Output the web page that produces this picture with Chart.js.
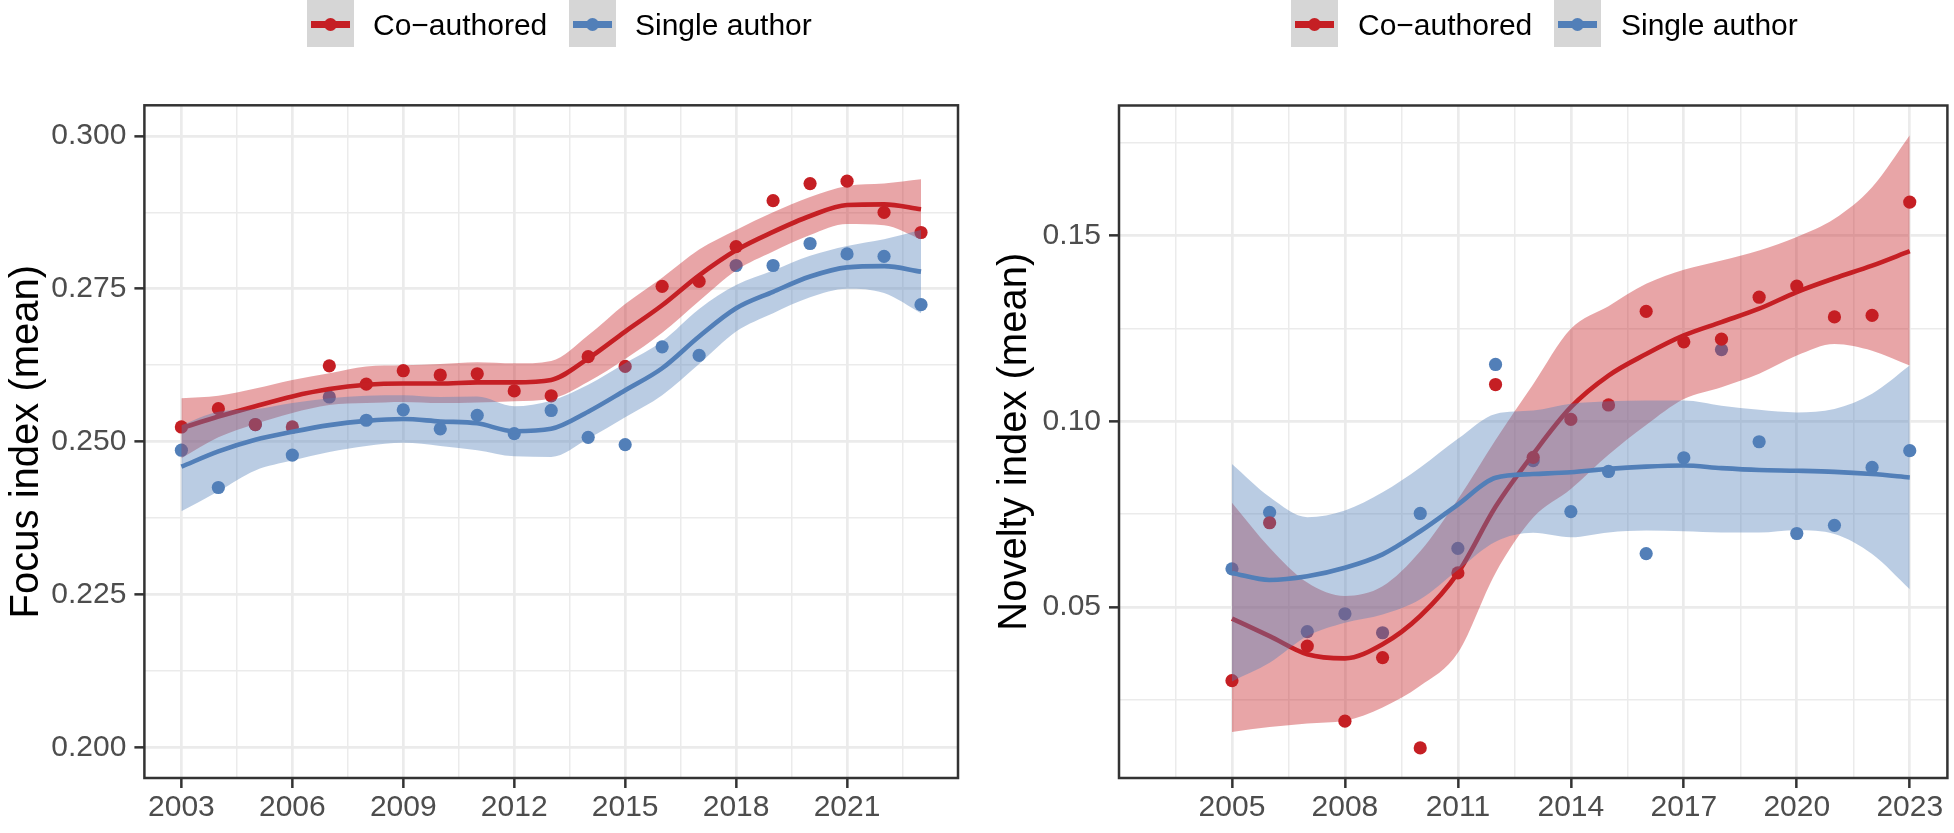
<!DOCTYPE html>
<html><head><meta charset="utf-8">
<script src="https://cdn.jsdelivr.net/npm/chart.js@4.4.1/dist/chart.umd.min.js"></script>
<style>
html,body{margin:0;padding:0;background:#fff;width:1954px;height:833px;overflow:hidden;}
#wrap{position:relative;width:1954px;height:833px;}
canvas{position:absolute;top:0;}
.key{position:absolute;top:0;width:47px;height:47px;background:#d6d6d6;}
.key .ln{position:absolute;left:4px;width:39px;top:20.5px;height:7px;}
.key .pt{position:absolute;left:17px;top:17.5px;width:13px;height:13px;border-radius:50%;}
.lab{position:absolute;top:1px;line-height:48px;white-space:nowrap;font-family:'Liberation Sans',Arial,Helvetica,sans-serif;font-size:30px;color:#000;}
</style></head>
<body><div id="wrap">
<canvas id="c1" width="977" height="833" style="left:0"></canvas>
<canvas id="c2" width="977" height="833" style="left:977px"></canvas>

<div class="key" style="left:307px"><div class="ln" style="background:rgb(197,31,36)"></div><div class="pt" style="background:rgb(197,31,36)"></div></div>
<div class="lab" style="left:373px">Co−authored</div>
<div class="key" style="left:569px"><div class="ln" style="background:rgb(82,127,184)"></div><div class="pt" style="background:rgb(82,127,184)"></div></div>
<div class="lab" style="left:635px">Single author</div>

<div class="key" style="left:1291px"><div class="ln" style="background:rgb(197,31,36)"></div><div class="pt" style="background:rgb(197,31,36)"></div></div>
<div class="lab" style="left:1358px">Co−authored</div>
<div class="key" style="left:1554px"><div class="ln" style="background:rgb(82,127,184)"></div><div class="pt" style="background:rgb(82,127,184)"></div></div>
<div class="lab" style="left:1621px">Single author</div>
</div>
<script>
// ---------- Focus index (left panel) ----------
const focusYears = [2003,2004,2005,2006,2007,2008,2009,2010,2011,2012,2013,2014,2015,2016,2017,2018,2019,2020,2021,2022,2023];
const focusCoPoints = [0.2524,0.2554,0.2528,0.2524,0.2624,0.2594,0.2616,0.2609,0.2611,0.2583,0.2575,0.2639,0.2623,0.2754,0.2762,0.2819,0.2894,0.2922,0.2926,0.2875,0.2842];
const focusSinglePoints = [0.2486,0.2425,0.2528,0.2478,0.2573,0.2535,0.2552,0.2521,0.2543,0.2513,0.2551,0.2507,0.2495,0.2655,0.2641,0.2788,0.2788,0.2824,0.2807,0.2803,0.2724];
const focusCoFit = [0.2522,0.2541,0.2558,0.2574,0.2586,0.2593,0.2595,0.2595,0.2597,0.2597,0.2601,0.2636,0.2680,0.2723,0.2772,0.2813,0.2843,0.2869,0.2887,0.2888,0.2880];
const focusCoUpper = [0.2571,0.2575,0.2587,0.2601,0.2612,0.2623,0.2625,0.2627,0.2630,0.2628,0.2632,0.2674,0.2725,0.2768,0.2814,0.2846,0.2875,0.2900,0.2918,0.2922,0.2929];
const focusCoLower = [0.2473,0.2507,0.2529,0.2547,0.2560,0.2563,0.2565,0.2563,0.2564,0.2566,0.2570,0.2598,0.2635,0.2678,0.2730,0.2780,0.2811,0.2838,0.2856,0.2854,0.2831];
const focusSingleFit = [0.2459,0.2484,0.2503,0.2516,0.2527,0.2534,0.2537,0.2533,0.2530,0.2517,0.2521,0.2549,0.2584,0.2620,0.2672,0.2718,0.2745,0.2770,0.2785,0.2787,0.2778];
const focusSingleUpper = [0.2527,0.2549,0.2553,0.2563,0.2571,0.2575,0.2576,0.2573,0.2574,0.2558,0.2567,0.2593,0.2628,0.2664,0.2717,0.2756,0.2780,0.2804,0.2820,0.2831,0.2846];
const focusSingleLower = [0.2386,0.2419,0.2453,0.2469,0.2483,0.2493,0.2498,0.2493,0.2486,0.2476,0.2475,0.2505,0.2540,0.2576,0.2627,0.2680,0.2710,0.2736,0.2750,0.2743,0.2710];
const focusXMajor = [2003,2006,2009,2012,2015,2018,2021];
const focusXMinor = [2004.5,2007.5,2010.5,2013.5,2016.5,2019.5,2022.5];
const focusYMajor = [0.200,0.225,0.250,0.275,0.300];
const focusYMinor = [0.2125,0.2375,0.2625,0.2875];

// ---------- Novelty index (right panel) ----------
const noveltyYears = [2005,2006,2007,2008,2009,2010,2011,2012,2013,2014,2015,2016,2017,2018,2019,2020,2021,2022,2023];
const noveltyCoPoints = [0.0302,0.0727,0.0395,0.0193,0.0364,0.0121,0.0592,0.1099,0.0903,0.1005,0.1044,0.1296,0.1214,0.1221,0.1334,0.1364,0.1281,0.1285,0.1590];
const noveltySinglePoints = [0.0603,0.0755,0.0434,0.0482,0.0431,0.0752,0.0658,0.1153,0.0894,0.0757,0.0865,0.0644,0.0902,0.1193,0.0945,0.0698,0.0720,0.0876,0.0921];
const noveltyCoFit = [0.0469,0.0422,0.0373,0.0362,0.0400,0.0476,0.0592,0.0770,0.0912,0.1038,0.1123,0.1181,0.1231,0.1267,0.1303,0.1348,0.1385,0.1419,0.1458];
const noveltyCoUpper = [0.0781,0.0660,0.0566,0.0530,0.0556,0.0650,0.0790,0.0950,0.1100,0.1249,0.1310,0.1370,0.1408,0.1433,0.1460,0.1496,0.1545,0.1630,0.1770];
const noveltyCoLower = [0.0164,0.0177,0.0187,0.0194,0.0230,0.0288,0.0377,0.0592,0.0741,0.0818,0.0910,0.0990,0.1060,0.1092,0.1128,0.1177,0.1208,0.1190,0.1150];
const noveltySingleFit = [0.0592,0.0573,0.0583,0.0606,0.0642,0.0704,0.0776,0.0848,0.0858,0.0863,0.0872,0.0878,0.0881,0.0874,0.0869,0.0867,0.0864,0.0858,0.0849];
const noveltySingleUpper = [0.0885,0.0796,0.0742,0.0760,0.0809,0.0876,0.0953,0.1020,0.1029,0.1047,0.1054,0.1056,0.1056,0.1042,0.1031,0.1024,0.1033,0.1074,0.1150];
const noveltySingleLower = [0.0300,0.0350,0.0422,0.0458,0.0480,0.0521,0.0600,0.0676,0.0700,0.0688,0.0701,0.0706,0.0704,0.0701,0.0701,0.0707,0.0697,0.0643,0.0548];
const noveltyXMajor = [2005,2008,2011,2014,2017,2020,2023];
const noveltyXMinor = [2003.5,2006.5,2009.5,2012.5,2015.5,2018.5,2021.5];
const noveltyYMajor = [0.05,0.10,0.15];
const noveltyYMinor = [0.025,0.075,0.125,0.175];

const RED = 'rgb(197,31,36)', BLUE = 'rgb(82,127,184)';
const REDF = 'rgba(197,31,36,0.4)', BLUEF = 'rgba(82,127,184,0.4)';
const FONT = "'Liberation Sans', Arial, Helvetica, sans-serif";

function pts(xs, ys){ return xs.map((x,i)=>({x:x, y:ys[i]})); }
function tickObjs(majors, minors){
  return majors.map(v=>({value:v, mj:true})).concat(minors.map(v=>({value:v, mj:false}))).sort((a,b)=>a.value-b.value);
}

const framePlugin = {
  id:'frame',
  afterDraw(chart){
    const {ctx, chartArea:a} = chart;
    ctx.save();
    ctx.strokeStyle = '#333333';
    ctx.lineWidth = 2.5;
    ctx.strokeRect(a.left, a.top, a.right-a.left, a.bottom-a.top);
    ctx.restore();
  }
};

function makeChart(id, c){
  const line = (data, color) => ({data:data, borderColor:color, borderWidth:4.6, pointRadius:0, pointHoverRadius:0, fill:false, cubicInterpolationMode:'monotone'});
  const ribbon = (data, color, fill) => ({data:data, borderWidth:0, borderColor:'rgba(0,0,0,0)', pointRadius:0, pointHoverRadius:0, fill:fill, backgroundColor:color, cubicInterpolationMode:'monotone'});
  const dots = (data, color) => ({data:data, showLine:false, pointRadius:6.6, pointHoverRadius:6.6, pointBackgroundColor:color, pointBorderWidth:0, borderColor:color});
  const ds = [
    dots(pts(c.years,c.sPts), BLUE),
    dots(pts(c.years,c.cPts), RED),
    ribbon(pts(c.years,c.cHi), REDF, '+1'),
    ribbon(pts(c.years,c.cLo), 'rgba(0,0,0,0)', false),
    line(pts(c.years,c.cFit), RED),
    ribbon(pts(c.years,c.sHi), BLUEF, '+1'),
    ribbon(pts(c.years,c.sLo), 'rgba(0,0,0,0)', false),
    line(pts(c.years,c.sFit), BLUE)
  ];
  ds.forEach((d,i)=>{ d.order = ds.length - i; });

  const gridOpts = {
    color:'#ebebeb',
    lineWidth: ctx => (ctx.tick && ctx.tick.mj) ? 2.7 : 1.5,
    tickColor: ctx => (ctx.tick && ctx.tick.mj) ? '#333333' : 'rgba(0,0,0,0)',
    tickWidth: 2.5,
    tickLength: 10,
    drawTicks: true
  };

  return new Chart(document.getElementById(id), {
    type:'line',
    data:{datasets:ds},
    options:{
      responsive:false, animation:false, devicePixelRatio:1, events:[],
      layout:{padding:{top:c.top, right:c.right, bottom:0, left:0}},
      plugins:{legend:{display:false}, tooltip:{enabled:false}},
      scales:{
        x:{
          type:'linear', min:2002, max:2024,
          afterBuildTicks: s => { s.ticks = tickObjs(c.xMajor, c.xMinor); },
          afterFit: s => { s.height = 55; },
          ticks:{autoSkip:false, maxRotation:0, minRotation:0, padding:2, color:'#4d4d4d',
                 font:{family:FONT, size:30},
                 callback: v => c.xMajor.includes(v) ? String(v) : ''},
          grid: gridOpts,
          border:{display:false}
        },
        y:{
          type:'linear', min:c.yMin, max:c.yMax,
          afterBuildTicks: s => { s.ticks = tickObjs(c.yMajor, c.yMinor); },
          afterFit: s => { s.width = c.left; },
          ticks:{autoSkip:false, padding:8, color:'#4d4d4d',
                 font:{family:FONT, size:30},
                 callback: v => c.yMajor.includes(v) ? v.toFixed(c.dec) : ''},
          grid: gridOpts,
          border:{display:false},
          title:{display:true, text:c.title, color:'#000', font:{family:FONT, size:40}, padding:{top:c.titlePad, bottom:0}}
        }
      }
    },
    plugins:[framePlugin]
  });
}

makeChart('c1', {
  years:focusYears, cPts:focusCoPoints, sPts:focusSinglePoints,
  cFit:focusCoFit, cHi:focusCoUpper, cLo:focusCoLower,
  sFit:focusSingleFit, sHi:focusSingleUpper, sLo:focusSingleLower,
  xMajor:focusXMajor, xMinor:focusXMinor, yMajor:focusYMajor, yMinor:focusYMinor,
  yMin:0.195, yMax:0.305, dec:3, title:'Focus index (mean)', titlePad:3,
  left:144.4, right:19, top:105.3
});
makeChart('c2', {
  years:noveltyYears, cPts:noveltyCoPoints, sPts:noveltySinglePoints,
  cFit:noveltyCoFit, cHi:noveltyCoUpper, cLo:noveltyCoLower,
  sFit:noveltySingleFit, sHi:noveltySingleUpper, sLo:noveltySingleLower,
  xMajor:noveltyXMajor, xMinor:noveltyXMinor, yMajor:noveltyYMajor, yMinor:noveltyYMinor,
  yMin:0.0040, yMax:0.1850, dec:2, title:'Novelty index (mean)', titlePad:14,
  left:142, right:3, top:105.5
});
</script>
</body></html>
